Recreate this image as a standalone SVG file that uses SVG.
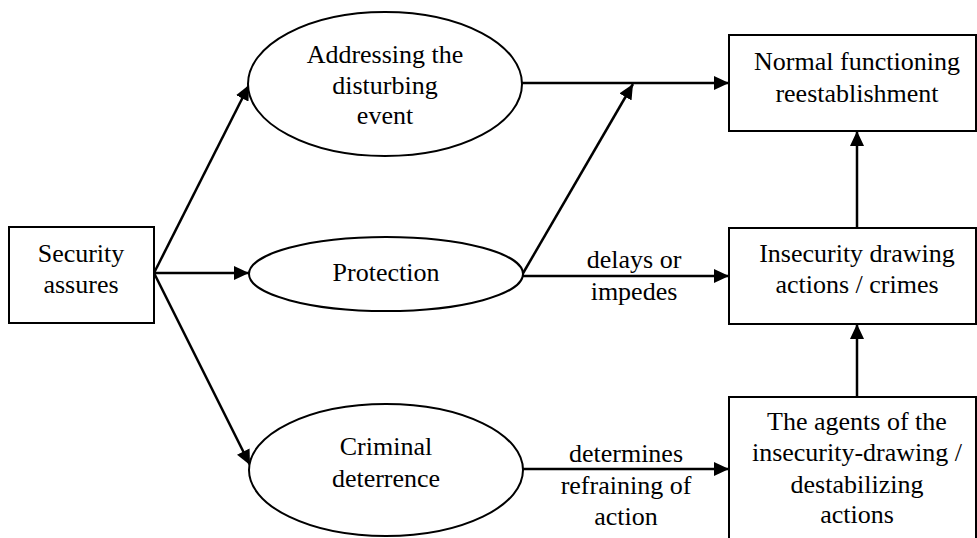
<svg xmlns="http://www.w3.org/2000/svg" width="977" height="538" viewBox="0 0 977 538">
<style>
.box{fill:#fff;stroke:#000;stroke-width:2}
.ell{fill:#fff;stroke:#000;stroke-width:2}
.t{font-family:"Liberation Serif","Times New Roman",serif;font-size:26px;fill:#000;text-anchor:middle}
.c{fill:none;stroke:#000;stroke-width:2.5}
</style>
<defs>
<marker id="arr" markerUnits="userSpaceOnUse" markerWidth="16" markerHeight="14" refX="15" refY="7" orient="auto">
<path d="M0,0 L15,7 L0,14 z" fill="#000"/>
</marker>
</defs>
<g id="connectors">
<path class="c" d="M154,273 L249,85" marker-end="url(#arr)"/>
<path class="c" d="M154,273 L249,273" marker-end="url(#arr)"/>
<path class="c" d="M154,273 L250,465" marker-end="url(#arr)"/>
<path class="c" d="M522,83 L729,83" marker-end="url(#arr)"/>
<path class="c" d="M522,275 L633,84" marker-end="url(#arr)"/>
<path class="c" d="M522,276 L729,276" marker-end="url(#arr)"/>
<path class="c" d="M522,469 L729,469" marker-end="url(#arr)"/>
<path class="c" d="M857,228 L857,131" marker-end="url(#arr)"/>
<path class="c" d="M857,397 L857,324" marker-end="url(#arr)"/>
<text class="t" x="634" y="268">delays or</text>
<text class="t" x="634" y="300">impedes</text>
<text class="t" x="626" y="462">determines</text>
<text class="t" x="626" y="494">refraining of</text>
<text class="t" x="626" y="525">action</text>
</g>
<g id="security">
<rect class="box" x="9" y="227" width="145" height="96"/>
<text class="t" x="81" y="262">Security</text>
<text class="t" x="81" y="293">assures</text>
</g>
<g id="addressing">
<ellipse class="ell" cx="385" cy="84" rx="137" ry="72"/>
<text class="t" x="385" y="63">Addressing the</text>
<text class="t" x="385" y="94">disturbing</text>
<text class="t" x="385" y="124">event</text>
</g>
<g id="protection">
<ellipse class="ell" cx="386" cy="274" rx="137" ry="37"/>
<text class="t" x="386" y="281">Protection</text>
</g>
<g id="criminal">
<ellipse class="ell" cx="386" cy="470" rx="137" ry="66"/>
<text class="t" x="386" y="455">Criminal</text>
<text class="t" x="386" y="487">deterrence</text>
</g>
<g id="normal">
<rect class="box" x="729" y="35" width="247" height="96"/>
<text class="t" x="857" y="70">Normal functioning</text>
<text class="t" x="857" y="102">reestablishment</text>
</g>
<g id="insecurity">
<rect class="box" x="729" y="228" width="247" height="96"/>
<text class="t" x="857" y="262">Insecurity drawing</text>
<text class="t" x="857" y="293">actions / crimes</text>
</g>
<g id="agents">
<rect class="box" x="729" y="397" width="247" height="150"/>
<text class="t" x="857" y="430">The agents of the</text>
<text class="t" x="857" y="461">insecurity-drawing /</text>
<text class="t" x="857" y="493">destabilizing</text>
<text class="t" x="857" y="523">actions</text>
</g>
</svg>
